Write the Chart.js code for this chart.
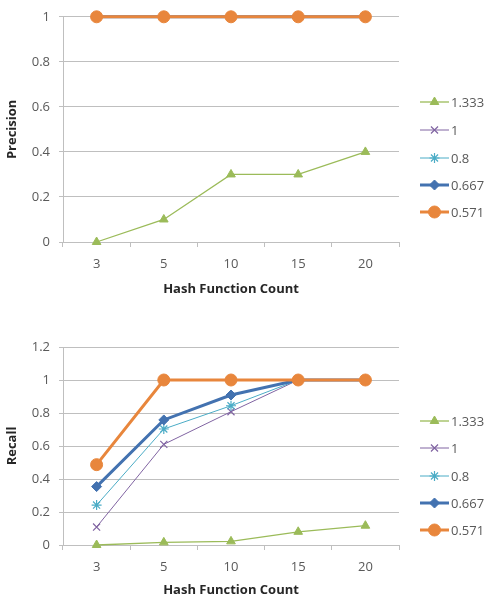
<!DOCTYPE html>
<html>
<head>
<meta charset="utf-8">
<script src="https://cdn.jsdelivr.net/npm/chart.js@4.4.1/dist/chart.umd.min.js"></script>
<style>
  html, body { margin: 0; padding: 0; background: #fff; }
  #wrap { position: relative; width: 488px; height: 602px; overflow: hidden; }
  canvas { position: absolute; left: 0; }
</style>
</head>
<body>
<div id="wrap">
  <canvas id="top" width="488" height="301" style="top:0"></canvas>
  <canvas id="bottom" width="488" height="301" style="top:301px"></canvas>
</div>
<script>
// ---- data ----
const categories = ['3', '5', '10', '15', '20'];
const seriesNames = ['1.333', '1', '0.8', '0.667', '0.571'];
const xTitle = 'Hash Function Count';

const precision_1333 = [0, 0.1, 0.3, 0.3, 0.4];
const precision_1    = [1, 1, 1, 1, 1];
const precision_08   = [1, 1, 1, 1, 1];
const precision_0667 = [1, 1, 1, 1, 1];
const precision_0571 = [1, 1, 1, 1, 1];

const recall_1333 = [0, 0.016, 0.022, 0.08, 0.117];
const recall_1    = [0.109, 0.61, 0.808, 1, 1];
const recall_08   = [0.242, 0.703, 0.844, 1, 1];
const recall_0667 = [0.354, 0.758, 0.909, 1, 1];
const recall_0571 = [0.487, 1, 1, 1, 1];

// ---- styles ----
const styles = [
  { color: '#9BBB59', width: 1.3, point: 'triangle', radius: 5, order: 4 },
  { color: '#8064A2', width: 1,   point: 'crossRot', radius: 5, order: 3 },
  { color: '#4BACC6', width: 1,   point: 'star',     radius: 5, order: 2 },
  { color: '#4372B0', width: 3,   point: 'rectRot',  radius: 5, order: 1 },
  { color: '#E8863C', width: 3,   point: 'circle',   radius: 6, order: 0 }
];

const FONT = "'Open Sans', 'Noto Sans', sans-serif";

function makeDatasets(seriesList) {
  return seriesList.map((vals, i) => {
    const s = styles[i];
    return {
      label: seriesNames[i],
      data: vals,
      borderColor: s.color,
      backgroundColor: s.color,
      borderWidth: s.width,
      pointStyle: s.point,
      pointRadius: s.radius,
      pointHoverRadius: s.radius,
      pointBorderWidth: (s.point === 'crossRot' || s.point === 'star') ? 1.2 : 1,
      pointBorderColor: s.color,
      pointBackgroundColor: s.color,
      tension: 0,
      order: s.order,
      clip: false
    };
  });
}

const legendPlugin = {
  id: 'sideLegend',
  afterDraw(chart, args, opts) {
    const ctx = chart.ctx;
    const x0 = opts.x, ys = opts.ys;
    chart.data.datasets.forEach((ds, i) => {
      const y = ys[i];
      ctx.save();
      ctx.strokeStyle = ds.borderColor;
      ctx.fillStyle = ds.backgroundColor;
      ctx.lineWidth = ds.borderWidth;
      ctx.beginPath();
      ctx.moveTo(x0, y);
      ctx.lineTo(x0 + 29, y);
      ctx.stroke();
      ctx.lineWidth = ds.pointBorderWidth;
      Chart.helpers.drawPoint(ctx, {
        pointStyle: ds.pointStyle,
        radius: ds.pointRadius,
        rotation: 0,
        borderWidth: ds.pointBorderWidth
      }, x0 + 14.5, y);
      ctx.fillStyle = '#595959';
      ctx.font = '13px ' + FONT;
      ctx.textBaseline = 'middle';
      ctx.textAlign = 'left';
      ctx.fillText(ds.label, x0 + 31, y + 1);
      ctx.restore();
    });
  }
};

function makeChart(id, seriesList, yTitle, yMax, padTop, xHeight, legendYs) {
  return new Chart(document.getElementById(id), {
    type: 'line',
    data: { labels: categories, datasets: makeDatasets(seriesList) },
    options: {
      responsive: false,
      animation: false,
      layout: { padding: { left: 0, right: 89, top: padTop, bottom: 0 } },
      plugins: {
        legend: { display: false },
        tooltip: { enabled: false },
        sideLegend: { x: 420, ys: legendYs }
      },
      scales: {
        x: {
          offset: true,
          grid: { offset: true, drawOnChartArea: false, drawTicks: true, tickLength: 5, color: '#BFBFBF' },
          border: { display: true, color: '#BFBFBF' },
          ticks: { color: '#595959', font: { family: FONT, size: 13 }, padding: 9 },
          title: { display: true, text: xTitle, color: '#262626', font: { family: FONT, size: 13, weight: 'bold' }, padding: { top: 4, bottom: 4 } },
          afterFit(scale) { scale.height = xHeight; }
        },
        y: {
          min: 0, max: yMax,
          ticks: { stepSize: 0.2, color: '#595959', font: { family: FONT, size: 13 }, padding: 9,
                   callback: v => String(Math.round(v * 10) / 10) },
          grid: { color: '#BFBFBF', tickLength: 4, drawTicks: true },
          border: { display: true, color: '#BFBFBF' },
          title: { display: true, text: yTitle, color: '#262626', font: { family: FONT, size: 13, weight: 'bold' }, padding: { top: 4, bottom: 4 } },
          afterFit(scale) { scale.width = 63; }
        }
      }
    },
    plugins: [legendPlugin]
  });
}

makeChart('top',
  [precision_1333, precision_1, precision_08, precision_0667, precision_0571],
  'Precision', 1, 14, 59, [102, 130, 158, 185, 212]);

makeChart('bottom',
  [recall_1333, recall_1, recall_08, recall_0667, recall_0571],
  'Recall', 1.2, 46, 57, [120, 147, 175, 202, 229]);
</script>
</body>
</html>
